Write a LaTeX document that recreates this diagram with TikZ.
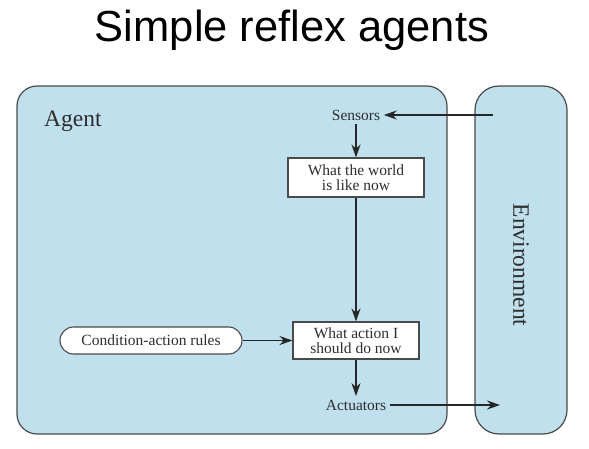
\documentclass[tikz,border=0pt]{standalone}
\usepackage{fontspec}
\setmainfont{Liberation Serif}
\newfontfamily\titlefont{Liberation Sans}
\usetikzlibrary{arrows.meta,shapes.misc}
\definecolor{panelblue}{HTML}{BFE0EC}
\definecolor{edgegray}{HTML}{4A4A4A}
\definecolor{textgray}{HTML}{2E2E2E}
\tikzset{
  panel/.style={draw=edgegray, line width=1.2pt, fill=panelblue},
  lbl/.style={text=textgray, font=\fontsize{15.5}{15.5}\selectfont, inner sep=3.5pt},
  stepbox/.style={draw=edgegray, line width=1.1pt, fill=white, text=textgray,
    font=\fontsize{15.5}{15}\selectfont, align=center, inner sep=0pt},
  rulebox/.style={draw=edgegray, line width=1.1pt, fill=white, text=textgray,
    font=\fontsize{15.5}{15.5}\selectfont, rounded rectangle, inner sep=0pt},
  flow/.style={draw=black!85, line width=1.6pt, -{Stealth[length=13pt,width=9pt]}},
}
\begin{document}
\begin{tikzpicture}[x=1pt,y=-1pt]
\useasboundingbox (0,0) rectangle (589,449);
\node[font=\titlefont\fontsize{43.5}{43.5}\selectfont, anchor=base, inner sep=0pt] (title) at (292,42) {Simple reflex agents};
\draw[panel, rounded corners=20pt] (17,86) rectangle (447,434);
\draw[panel, rounded corners=24pt] (475,86) rectangle (567,434);
\node[text=textgray, font=\fontsize{23.5}{23.5}\selectfont, anchor=base west, inner sep=0pt] (agent) at (44,127) {Agent};
\node[text=textgray, font=\fontsize{23.5}{23.5}\selectfont, rotate=-90, inner sep=0pt] (env) at (521,265) {Environment};
\node[lbl] (sensors) at (356,115) {Sensors};
\node[stepbox, minimum width=136pt, minimum height=39pt] (world) at (356,177.5) {What the world\\is like now};
\node[stepbox, minimum width=126pt, minimum height=37pt] (action) at (356,340.5) {What action I\\should do now};
\node[rulebox, minimum width=182pt, minimum height=27pt] (rules) at (151,340.5) {Condition-action rules};
\node[lbl] (actuators) at (356,405) {Actuators};
\coordinate (envin) at (493,115);
\coordinate (envout) at (500,405);
\draw[flow] (envin) -- (sensors.east);
\draw[flow] (sensors.south) -- (world.north);
\draw[flow] (world.south) -- (action.north);
\draw[flow] (rules.east) -- (action.west);
\draw[flow] (action.south) -- (actuators.north);
\draw[flow] (actuators.east) -- (envout);
\end{tikzpicture}
\end{document}
